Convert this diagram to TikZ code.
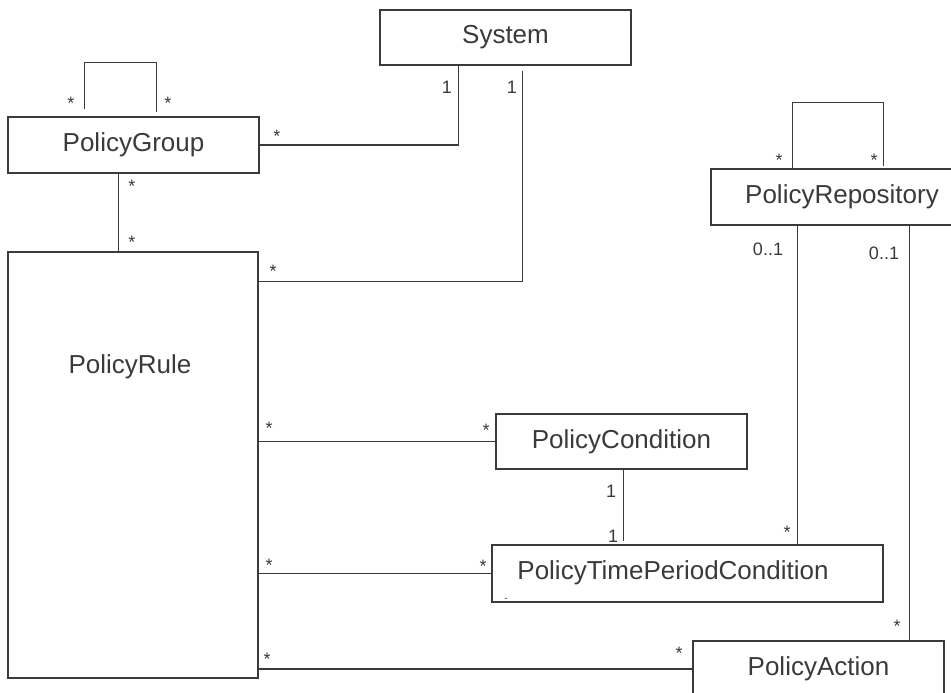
\documentclass[tikz,border=0pt]{standalone}
\usepackage{fontspec}
\setmainfont{Liberation Sans}
\usetikzlibrary{calc}
\definecolor{ink}{HTML}{3A3A3A}
\begin{document}
\begin{tikzpicture}[x=1pt,y=-1pt,
  cls/.style={draw=ink,line width=1.1pt,rectangle,inner sep=0pt,
              font=\fontsize{26}{30}\selectfont,text=ink},
  clstext/.style={inner sep=0pt,font=\fontsize{26}{30}\selectfont,text=ink},
  conn/.style={draw=ink,line width=1.1pt},
  mult/.style={font=\fontsize{18}{21}\selectfont,text=ink,inner sep=0pt,anchor=base}]
\useasboundingbox (0,0) rectangle (951,693);
\clip (0,0) rectangle (951,693);

% classes
\node[cls,minimum width=251pt,minimum height=55pt] (sys) at (505.5,37.5) {System};
\node[cls,minimum width=251pt,minimum height=56pt] (pg) at (133.5,145) {PolicyGroup};
\node[cls,minimum width=250pt,minimum height=426pt] (pr) at (133,465) {};
\node[clstext] (prt) at (130,367) {PolicyRule};
\node[cls,minimum width=262pt,minimum height=56pt] (rep) at (842,197) {PolicyRepository};
\node[cls,minimum width=251pt,minimum height=55pt] (cond) at (621.5,441.5) {PolicyCondition};
\node[cls,minimum width=391pt,minimum height=57pt] (tpc) at (687.5,573.5) {};
\node[clstext] (tpct) at (673,573) {PolicyTimePeriodCondition};
\node[cls,minimum width=251pt,minimum height=56pt] (act) at (818.5,669) {PolicyAction};

% connectors
\draw[conn] ($(pg.north west)+(77,-7)$) |- ($(pg.north west)+(149,-54)$) -- ($(pg.north west)+(149,-4)$);
\draw[conn] (pg.east) -| ($(sys.south west)+(79,0)$);
\draw[conn] ($(pr.north east)+(0,30)$) -| ($(sys.south west)+(143,5)$);
\draw[conn] ($(pg.south west)+(111,0)$) -- ($(pr.north west)+(111,0)$);
\draw[conn] (pr.east |- cond.west) -- (cond.west);
\draw[conn] (pr.east |- tpc.west) -- (tpc.west);
\draw[conn] (pr.east |- act.west) -- (act.west);
\draw[conn] ($(cond.south west)+(128,0)$) -- ($(tpc.north west)+(132,-3)$);
\draw[conn] ($(rep.south west)+(87,0)$) -- ($(tpc.north west)+(306,0)$);
\draw[conn] ($(rep.south west)+(199,0)$) -- ($(act.north west)+(217,0)$);
\draw[conn] ($(rep.north west)+(82,0)$) |- ($(rep.north west)+(173,-66)$) -- ($(rep.north west)+(173,-2)$);

% multiplicities
\node[mult] (m1) at (71,110) {*};
\node[mult] (m2) at (168,110) {*};
\node[mult] (m3) at (277,142) {*};
\node[mult] (m4) at (132,192) {*};
\node[mult] (m5) at (132,248) {*};
\node[mult] (m6) at (273,277) {*};
\node[mult] (m7) at (269,434) {*};
\node[mult] (m8) at (486,436) {*};
\node[mult] (m9) at (269,571) {*};
\node[mult] (m10) at (483,572) {*};
\node[mult] (m11) at (267,665) {*};
\node[mult] (m12) at (679,659) {*};
\node[mult] (m13) at (787,538) {*};
\node[mult] (m14) at (897,632) {*};
\node[mult] (m15) at (779,166) {*};
\node[mult] (m16) at (874,166) {*};
\node[mult] (n1) at (447,93) {1};
\node[mult] (n2) at (512,93) {1};
\node[mult] (n3) at (611,497) {1};
\node[mult] (n4) at (613,542) {1};
\node[mult] (z1) at (768,255) {0..1};
\node[mult] (z2) at (884,259) {0..1};
\node[mult,font=\fontsize{10}{12}\selectfont] (dash) at (506,601) {-};
\end{tikzpicture}
\end{document}
